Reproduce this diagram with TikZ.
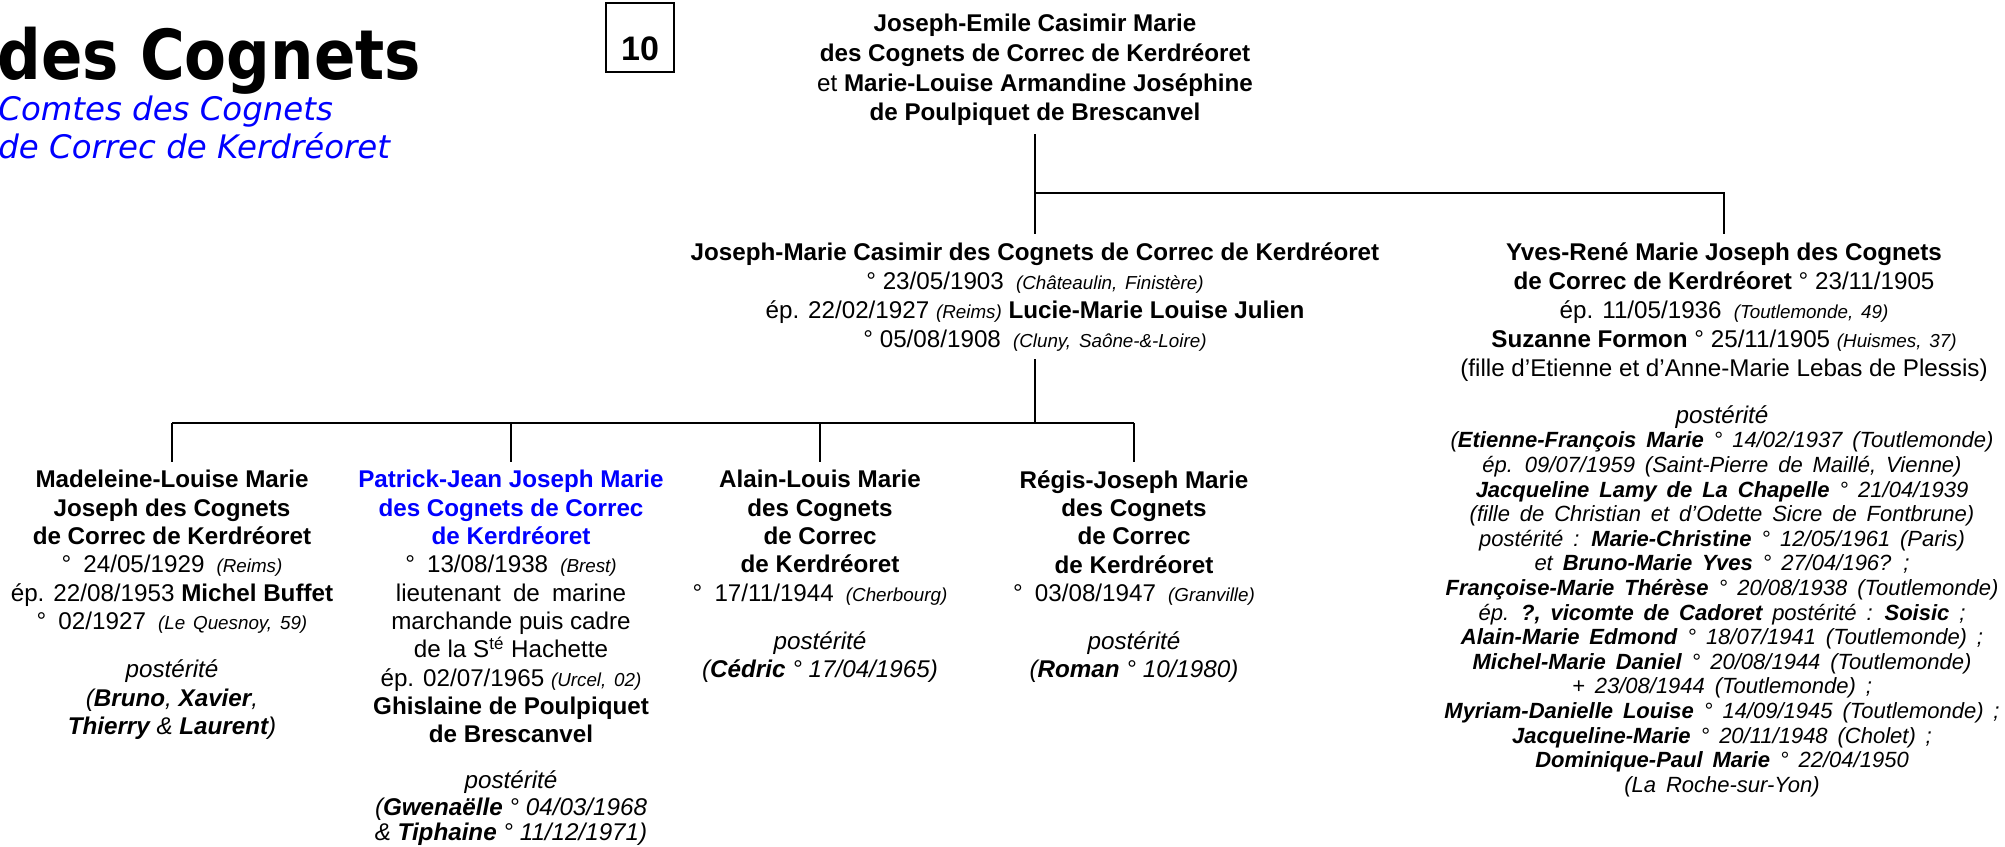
\documentclass[tikz,border=0pt]{standalone}
\usepackage{fontspec}
\setmainfont{Liberation Sans}
\newfontfamily\titlefont[FakeStretch=0.885]{DejaVu Sans Bold}
\newfontfamily\subfont{DejaVu Sans Oblique}
\usetikzlibrary{positioning}

\definecolor{kblue}{RGB}{0,0,255}

\newcommand\mainsz{\fontsize{12.1pt}{14.5pt}\selectfont}
\newcommand\topsz{\fontsize{12.1pt}{14.9pt}\selectfont}
\newcommand\kidsz{\fontsize{12.1pt}{14.15pt}\selectfont}
\newcommand\descsz{\fontsize{11pt}{12.3pt}\selectfont\itshape\spaceskip=0.45em\relax}
\newcommand\lieu[1]{{\itshape\fontsize{9.4pt}{12pt}\selectfont\spaceskip=0.42em\relax #1}}

\tikzset{
  person/.style={anchor=north, align=center, inner xsep=0pt, inner ysep=4pt, font=\mainsz},
  child/.style={person, font=\kidsz},
  link/.style={line width=1.4pt},
  numbox/.style={draw, line width=1pt, inner sep=0pt, minimum width=34pt, minimum height=34.5pt,
    font=\bfseries\fontsize{17pt}{18pt}\selectfont},
}

\begin{document}
\begin{tikzpicture}[x=0.5pt, y=-0.5pt]
\useasboundingbox (0,0) rectangle (2005,846);

% heading
\node[anchor=base west, inner sep=0pt, font=\titlefont\fontsize{34.5pt}{40pt}\selectfont] (title) at (-3,79) {des Cognets};
\node[anchor=base west, inner sep=0pt, text=kblue, font=\subfont\fontsize{16.2pt}{19pt}\selectfont] (sub1) at (-2,120) {Comtes des Cognets};
\node[anchor=base west, inner sep=0pt, text=kblue, font=\subfont\fontsize{16.2pt}{19pt}\selectfont] (sub2) at (-2,158) {de Correc de Kerdréoret};
\node[numbox, text height=23pt, text depth=0pt] (num) at (640,37.5) {10};

% generation 1
\node[person, font=\topsz] (couple) at (1035,5.5) {\textbf{Joseph-Emile Casimir Marie}\\
  \textbf{des Cognets de Correc de Kerdréoret}\\
  et \textbf{Marie-Louise Armandine Joséphine}\\
  \textbf{de Poulpiquet de Brescanvel}};

% generation 2
\node[person] (josm) at (1035,234) {\textbf{Joseph-Marie Casimir des Cognets de Correc de Kerdréoret}\\
  ° 23/05/1903\enspace\lieu{(Châteaulin, Finistère)}\\
  ép. 22/02/1927 \lieu{(Reims)} \textbf{Lucie-Marie Louise Julien}\\
  ° 05/08/1908\enspace\lieu{(Cluny, Saône-\&-Loire)}};
\node[person] (yves) at (1724,234) {\textbf{Yves-René Marie Joseph des Cognets}\\
  \textbf{de Correc de Kerdréoret} ° 23/11/1905\\
  ép. 11/05/1936\enspace\lieu{(Toutlemonde, 49)}\\
  \textbf{Suzanne Formon} ° 25/11/1905 \lieu{(Huismes, 37)}\\
  (fille d’Etienne et d’Anne-Marie Lebas de Plessis)};
\node[person, font=\descsz] (yvesdesc) at (1722,397) {{\mainsz postérité}\\
  (\textbf{Etienne-François Marie} ° 14/02/1937 (Toutlemonde)\\
  ép. 09/07/1959 (Saint-Pierre de Maillé, Vienne)\\
  \textbf{Jacqueline Lamy de La Chapelle} ° 21/04/1939\\
  (fille de Christian et d’Odette Sicre de Fontbrune)\\
  postérité : \textbf{Marie-Christine} ° 12/05/1961 (Paris)\\
  et \textbf{Bruno-Marie Yves} ° 27/04/196? ;\\
  \textbf{Françoise-Marie Thérèse} ° 20/08/1938 (Toutlemonde)\\
  ép. \textbf{?, vicomte de Cadoret} postérité : \textbf{Soisic} ;\\
  \textbf{Alain-Marie Edmond} ° 18/07/1941 (Toutlemonde) ;\\
  \textbf{Michel-Marie Daniel} ° 20/08/1944 (Toutlemonde)\\
  + 23/08/1944 (Toutlemonde) ;\\
  \textbf{Myriam-Danielle Louise} ° 14/09/1945 (Toutlemonde) ;\\
  \textbf{Jacqueline-Marie} ° 20/11/1948 (Cholet) ;\\
  \textbf{Dominique-Paul Marie} ° 22/04/1950\\
  (La Roche-sur-Yon)};

% generation 3
\node[child] (made) at (172,462) {\textbf{Madeleine-Louise Marie}\\
  \textbf{Joseph des Cognets}\\
  \textbf{de Correc de Kerdréoret}\\
  °\enspace 24/05/1929\enspace\lieu{(Reims)}\\
  ép. 22/08/1953 \textbf{Michel Buffet}\\
  °\enspace 02/1927\enspace\lieu{(Le Quesnoy, 59)}\\[10pt]
  \textit{postérité}\\
  \textit{(\textbf{Bruno}, \textbf{Xavier},}\\
  \textit{\textbf{Thierry} \& \textbf{Laurent})}};
\node[child] (patr) at (511,462) {\textcolor{kblue}{\textbf{Patrick-Jean Joseph Marie}}\\
  \textcolor{kblue}{\textbf{des Cognets de Correc}}\\
  \textcolor{kblue}{\textbf{de Kerdréoret}}\\
  °\enspace 13/08/1938\enspace\lieu{(Brest)}\\
  lieutenant\enspace de\enspace marine\\
  marchande puis cadre\\
  de la S\textsuperscript{té} Hachette\\
  ép. 02/07/1965 \lieu{(Urcel, 02)}\\
  \textbf{Ghislaine de Poulpiquet}\\
  \textbf{de Brescanvel}\\[9pt]
  \textit{postérité}\\[-1pt]
  \textit{(\textbf{Gwenaëlle} ° 04/03/1968}\\[-1.5pt]
  \textit{\& \textbf{Tiphaine} ° 11/12/1971)}};
\node[child] (alai) at (820,462) {\textbf{Alain-Louis Marie}\\
  \textbf{des Cognets}\\
  \textbf{de Correc}\\
  \textbf{de Kerdréoret}\\
  °\enspace 17/11/1944\enspace\lieu{(Cherbourg)}\\[10pt]
  \textit{postérité}\\
  \textit{(\textbf{Cédric} ° 17/04/1965)}};
\node[child] (regi) at (1134,462) {\textbf{Régis-Joseph Marie}\\
  \textbf{des Cognets}\\
  \textbf{de Correc}\\
  \textbf{de Kerdréoret}\\
  °\enspace 03/08/1947\enspace\lieu{(Granville)}\\[10pt]
  \textit{postérité}\\
  \textit{(\textbf{Roman} ° 10/1980)}};

% links
\coordinate (fork0) at (1035,193);
\coordinate (fork1) at (1035,423);
\draw[link] (couple.south) -- (fork0) -- (josm.north);
\draw[link] (fork0) -| (yves.north);
\draw[link] (josm.south) -- (fork1);
\draw[link] (made.north |- fork1) -- (regi.north |- fork1);
\foreach \kid in {made,patr,alai,regi}
  \draw[link] (\kid.north |- fork1) -- (\kid.north);
\end{tikzpicture}
\end{document}
